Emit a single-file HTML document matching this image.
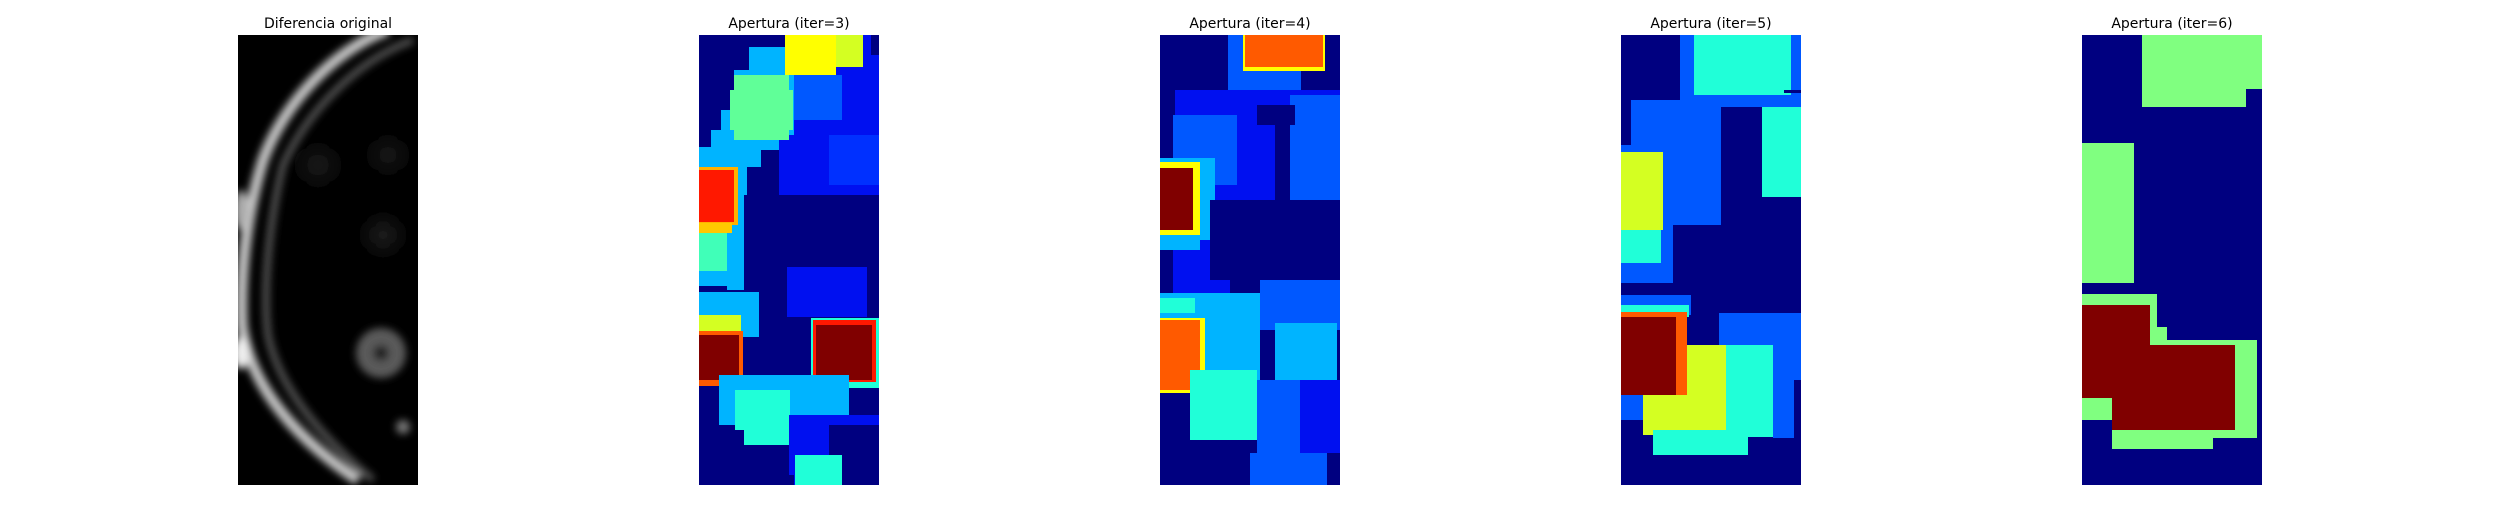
<!DOCTYPE html>
<html><head><meta charset="utf-8">
<style>
html,body{margin:0;padding:0;background:#fff;}
body{width:2500px;height:500px;overflow:hidden;}
svg text{font-family:"DejaVu Sans","Liberation Sans",sans-serif;font-size:14px;fill:#000;}
</style></head>
<body>
<svg id="fig" width="2500" height="500" viewBox="0 0 2500 500" xmlns="http://www.w3.org/2000/svg">
<defs>
<filter id="blur" x="-20%" y="-20%" width="140%" height="140%"><feGaussianBlur stdDeviation="4"/></filter>
<filter id="blur2" x="-50%" y="-50%" width="200%" height="200%"><feGaussianBlur stdDeviation="9"/></filter>
<clipPath id="c1"><rect x="0" y="0" width="180" height="450"/></clipPath>
</defs>
</svg>
<script>
// panel layout
var titles = ["Diferencia original","Apertura (iter=3)","Apertura (iter=4)","Apertura (iter=5)","Apertura (iter=6)"];
var panelX = [238, 699, 1160, 1621, 2082];
var N="#000080",B="#0010f0",M="#0058ff",L="#00b4ff",C="#20ffd8",G="#80ff80",Y="#ffff00",YG="#d4ff22",O="#ff5a00",R="#ff1800",D="#800000";
// cells: [x, y, w, h, colour] in image pixels
var cells3 = [
 [0,0,180,450,N],[80,20,100,145,B],[93,40,50,45,M],[130,100,50,50,"#0030ff"],
 [164,0,8,80,B],
 [50,12,40,25,L],[35,35,60,45,L],[22,75,73,25,L],[12,95,68,20,L],[0,112,62,20,L],[0,130,48,30,L],
 [35,40,55,65,"#60ff98"],[31,55,63,40,"#60ff98"],
 [86,0,51,40,Y],[137,0,27,32,YG],
 [55,160,125,40,N],[30,190,150,95,N],[88,232,80,50,B],
 [0,115,45,140,L],[0,132,39,58,"#ffb000"],[0,135,35,52,R],
 [0,188,33,10,"#ffc800"],[0,198,28,38,"#40ffb8"],[0,236,28,15,L],[0,251,28,6,N],[0,257,60,45,L],[0,280,42,20,YG],[0,296,44,55,O],[0,300,40,45,D],
 [112,283,68,70,C],[114,285,63,62,R],[117,290,56,55,D],[20,340,130,50,L],[36,355,55,55,C],
 [90,380,90,70,B],[130,390,50,60,N],[96,420,47,30,C],[0,370,20,80,N],[20,395,25,55,N],[45,420,30,30,N],[75,440,20,10,N]
];
var cells4 = [
 [0,0,180,450,N],[68,0,73,68,M],[83,0,82,36,Y],[85,0,78,32,O],[13,55,167,205,B],[0,0,15,115,N],[15,0,30,55,N],
 [13,80,64,70,M],[130,60,50,105,M],[97,70,38,20,N],[115,90,15,75,N],[0,123,55,82,L],[0,127,40,73,Y],[0,133,33,62,D],
 [0,200,40,15,L],[50,165,130,80,N],[70,245,60,60,N],[100,245,80,50,M],[115,288,62,60,L],
 [0,258,100,87,L],[0,263,35,15,C],[0,283,45,75,Y],[0,285,40,70,O],[30,335,67,70,C],[97,345,63,75,M],
 [140,345,40,75,B],[90,418,77,32,M],[167,418,13,32,N],[0,385,25,65,N],[25,405,30,45,N],[55,430,35,20,N]
];
var cells5 = [
 [0,0,180,450,N],[59,0,121,72,M],[73,0,97,60,C],[163,55,17,3,N],[10,65,90,125,M],[0,110,52,138,M],
 [141,72,39,90,C],[0,117,42,78,YG],[0,195,40,33,C],[0,228,52,20,M],[0,248,180,12,N],[0,260,70,20,M],
 [98,278,82,67,M],[0,270,68,12,C],[0,277,66,4,O],[22,310,130,90,YG],[105,310,47,92,C],[32,395,95,25,C],
 [152,345,21,58,M],[0,360,22,25,M],[0,280,66,80,O],[0,282,55,78,D]
];
var cells6 = [
 [0,0,180,450,N],[60,0,120,72,G],[164,54,16,18,N],[0,108,52,140,G],[0,259,75,51,G],[74,292,11,18,G],
 [0,305,175,98,G],[28,392,103,22,G],[0,270,68,93,D],[30,310,123,85,D],[68,310,85,85,D],[0,385,30,65,N],[131,403,44,11,N]
];
var panels = [null, cells3, cells4, cells5, cells6];
var NS="http://www.w3.org/2000/svg";
var fig=document.getElementById('fig');
function mk(t,a){var e=document.createElementNS(NS,t);for(var k in a)e.setAttribute(k,a[k]);return e;}
for(var p=0;p<5;p++){
 var g=mk('g',{transform:'translate('+panelX[p]+',35)'});
 
 
 fig.appendChild(g);
 var t=mk('text',{x:90,y:-7,'text-anchor':'middle'});
 
 
 t.textContent=titles[p];g.appendChild(t);
 var ig=mk('g',{'clip-path':'url(#c1)'});g.appendChild(ig);
 if(p===0){
  ig.appendChild(mk('rect',{x:0,y:0,width:180,height:450,fill:'#000'}));
  var soft=mk('g',{filter:'url(#blur2)'});ig.appendChild(soft);
  [[150,120,16,'#161616'],[80,130,18,'#121212'],[145,200,16,'#1c1c1c']].forEach(function(b){soft.appendChild(mk('circle',{cx:b[0],cy:b[1],r:b[2],fill:b[3]}));});
  var sh=mk('g',{filter:'url(#blur)'});ig.appendChild(sh);
  sh.appendChild(mk('path',{d:'M175,5 C120,25 70,75 45,130 C30,190 25,260 30,300 C40,350 80,400 135,445',fill:'none',stroke:'#555','stroke-width':7}));
  sh.appendChild(mk('path',{d:'M150,-5 C95,15 45,70 25,125 C8,180 2,240 4,290 C10,340 45,395 120,445',fill:'none',stroke:'#c8c8c8','stroke-width':11}));
  sh.appendChild(mk('ellipse',{cx:3,cy:175,rx:7,ry:20,fill:'#aaa'}));
  sh.appendChild(mk('ellipse',{cx:3,cy:318,rx:8,ry:16,fill:'#eee'}));
  sh.appendChild(mk('circle',{cx:143,cy:318,r:25,fill:'#5a5a5a'}));
  sh.appendChild(mk('circle',{cx:143,cy:318,r:8,fill:'#222'}));
  sh.appendChild(mk('circle',{cx:165,cy:392,r:7,fill:'#777'}));
 } else {
  var cs=panels[p];
  for(var i=0;i<cs.length;i++){
   var c=cs[i];
   var r=mk('rect',{x:c[0],y:c[1],width:c[2],height:c[3],fill:c[4]});
   
   
   ig.appendChild(r);
  }
 }
}
</script>
</body></html>
